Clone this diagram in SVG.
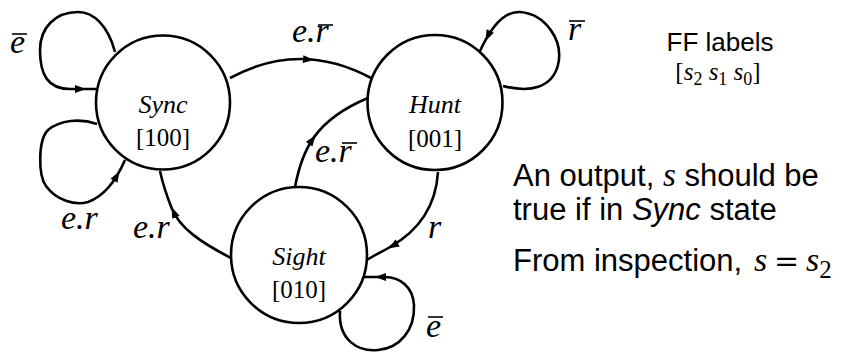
<svg xmlns="http://www.w3.org/2000/svg" xmlns:xlink="http://www.w3.org/1999/xlink" width="845" height="354" viewBox="0 0 845 354">
<defs>
<style>
.node{fill:#fff;stroke:#000;stroke-width:2.6}
.edge{fill:none;stroke:#000;stroke-width:2.6}
.bar{stroke:#000;stroke-width:1.6}
.nm{font-family:"Liberation Serif","Times New Roman",serif;font-style:italic;font-size:26px;text-anchor:middle}
.code{font-family:"Liberation Serif","Times New Roman",serif;font-size:25px;text-anchor:middle}
.lbl{font-family:"Liberation Serif","Times New Roman",serif;font-style:italic;font-size:34px}
.sans{font-family:"Liberation Sans",Arial,sans-serif;font-size:31px}
.math{font-family:"Liberation Serif","Times New Roman",serif;font-style:italic}
</style>
<path id="ah" d="M1,0 L-10,-4 L-10,4 Z" fill="#000"/>
</defs>
<g id="edges">
<path class="edge" d="M115,52 C108,25 93,12 78,12 C55,12 40,28 40,50 C40,75 48,89 70,89 L96,89"/>
<use xlink:href="#ah" transform="translate(85,89)"/>
<path class="edge" d="M97,124 C80,118 60,120 48,130 C38,140 38,175 46,186 C56,200 75,206 88,202 C102,197 115,183 125,160"/>
<use xlink:href="#ah" transform="translate(119,172) rotate(-60)"/>
<path class="edge" d="M230,78 Q300,40 371,78"/>
<use xlink:href="#ah" transform="translate(313,60) rotate(5)"/>
<path class="edge" d="M295,187 C302,150 315,120 368,98"/>
<use xlink:href="#ah" transform="translate(315,136) rotate(-54)"/>
<path class="edge" d="M438,172 C436,205 420,230 390,247 C380,253 373,256 367,260"/>
<use xlink:href="#ah" transform="translate(389,248) rotate(150)"/>
<path class="edge" d="M231,258 C200,242 180,228 172,209 C168,199 163,185 160,171"/>
<use xlink:href="#ah" transform="translate(172,208) rotate(-113)"/>
<path class="edge" d="M503,86 C530,93 552,88 558,65 C564,40 545,14 520,12 C505,11 492,25 480,51"/>
<use xlink:href="#ah" transform="translate(486,40) rotate(115)"/>
<path class="edge" d="M340,311 C338,340 358,352 378,350 C400,348 415,330 414,305 C413,287 400,277 385,277 L362,277"/>
<use xlink:href="#ah" transform="translate(376,277) rotate(180)"/>
<text class="lbl" x="10" y="53">e</text>
<line class="bar" x1="12" y1="34" x2="27" y2="34"/>
<text class="lbl" x="292" y="42">e.r</text>
<line class="bar" x1="318" y1="25" x2="333" y2="25"/>
<text class="lbl" x="315" y="162">e.r</text>
<line class="bar" x1="342" y1="143" x2="357" y2="143"/>
<text class="lbl" x="568" y="40">r</text>
<line class="bar" x1="569" y1="21" x2="585" y2="21"/>
<text class="lbl" x="428" y="238">r</text>
<text class="lbl" x="61" y="229">e.r</text>
<text class="lbl" x="133" y="238">e.r</text>
<text class="lbl" x="426" y="337">e</text>
<line class="bar" x1="428" y1="317" x2="443" y2="317"/>
</g>
<g id="sync">
<circle class="node" cx="163" cy="102.5" r="67"/>
<text class="nm" x="163" y="113">Sync</text>
<text class="code" x="163" y="146">[100]</text>
</g>
<g id="hunt">
<circle class="node" cx="435" cy="102.5" r="67.5"/>
<text class="nm" x="435" y="113">Hunt</text>
<text class="code" x="435" y="147">[001]</text>
</g>
<g id="sight">
<circle class="node" cx="299" cy="255" r="68"/>
<text class="nm" x="299" y="265">Sight</text>
<text class="code" x="299" y="298">[010]</text>
</g>
<g id="notes">
<text class="sans" x="720" y="51" text-anchor="middle" style="font-size:26px">FF labels</text>
<text x="718" y="80" text-anchor="middle" style="font-family:'Liberation Serif','Times New Roman',serif;font-size:25px">[<tspan font-style="italic">s</tspan><tspan font-size="18" dy="5">2</tspan><tspan dy="-5"> </tspan><tspan font-style="italic">s</tspan><tspan font-size="18" dy="5">1</tspan><tspan dy="-5"> </tspan><tspan font-style="italic">s</tspan><tspan font-size="18" dy="5">0</tspan><tspan dy="-5">]</tspan></text>
<text class="sans" x="513" y="186">An output, <tspan class="math" font-size="33">s</tspan> should be</text>
<text class="sans" x="513" y="220">true if in <tspan font-style="italic">Sync</tspan> state</text>
<text class="sans" x="513" y="271">From inspection, <tspan class="math" font-size="34" x="754">s</tspan><tspan font-family="'DejaVu Serif',serif" font-size="30" x="774">=</tspan><tspan class="math" font-size="34" x="806">s</tspan><tspan font-family="Liberation Serif" font-size="25" dy="7">2</tspan></text>
</g>
</svg>
